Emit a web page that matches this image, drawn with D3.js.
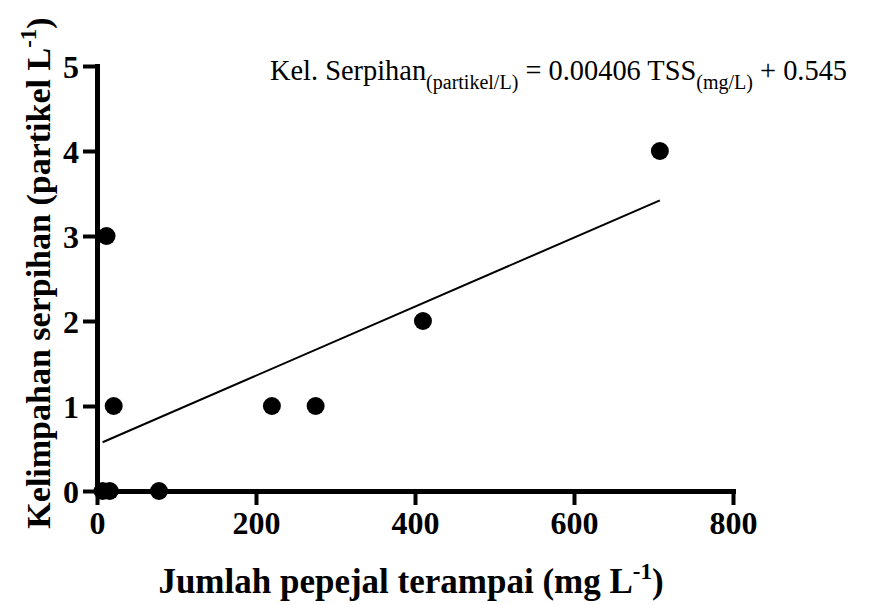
<!DOCTYPE html>
<html>
<head>
<meta charset="utf-8">
<script src="https://cdn.jsdelivr.net/npm/d3@7"></script>
<style>
  body { margin: 0; background: #fff; }
  svg { display: block; font-family: "Liberation Serif", "Times New Roman", serif; }
</style>
</head>
<body>
<svg id="chart" width="869" height="605"></svg>
<script>
// TSS (mg/L) vs debris abundance (partikel/L)
const tss = [7, 16, 78, 12, 21, 220, 275, 410, 708];
const debris = [0, 0, 0, 3, 1, 1, 1, 2, 4];
const slope = 0.00406;
const intercept = 0.545;
const xTicks = [0, 200, 400, 600, 800];
const yTicks = [0, 1, 2, 3, 4, 5];

const width = 869, height = 605;
const MARGIN = { LEFT: 97, RIGHT: 136, TOP: 66, BOTTOM: 114 };

const svg = d3.select("#chart");

const x = d3.scaleLinear().domain([0, 800]).range([MARGIN.LEFT, width - MARGIN.RIGHT]);
const y = d3.scaleLinear().domain([0, 5]).range([height - MARGIN.BOTTOM, MARGIN.TOP]);

// regression line over the data range
const xMin = d3.min(tss), xMax = d3.max(tss);
svg.append("line")
  .attr("x1", x(xMin)).attr("y1", y(slope * xMin + intercept))
  .attr("x2", x(xMax)).attr("y2", y(slope * xMax + intercept))
  .attr("stroke", "#000")
  .attr("stroke-width", 2);

// axes
const xAxis = svg.append("g")
  .attr("transform", `translate(0,${y(0)})`)
  .call(d3.axisBottom(x).tickValues(xTicks).tickFormat(d3.format("d"))
    .tickSize(14).tickSizeOuter(0).tickPadding(6));

const yAxis = svg.append("g")
  .attr("transform", `translate(${x(0)},0)`)
  .call(d3.axisLeft(y).tickValues(yTicks).tickFormat(d3.format("d"))
    .tickSize(14).tickSizeOuter(0).tickPadding(4));

[xAxis, yAxis].forEach((g) => {
  g.select(".domain").attr("stroke-width", 5).attr("stroke-linecap", "square");
  g.selectAll(".tick line").attr("stroke-width", 4);
  g.selectAll(".tick text")
    .attr("fill", "#000")
    .style("font-family", "'Liberation Serif', serif")
    .style("font-size", "32px")
    .style("font-weight", "bold");
});
yAxis.selectAll(".tick text").attr("dy", "0.35em");

// points
svg.append("g")
  .selectAll("circle")
  .data(tss.map((t, i) => ({ t, d: debris[i] })))
  .join("circle")
  .attr("cx", (d) => x(d.t))
  .attr("cy", (d) => y(d.d))
  .attr("r", 9)
  .attr("fill", "#000");

// equation
const eq = svg.append("text")
  .attr("x", 270)
  .attr("y", 80)
  .style("font-size", "28.4px")
  .attr("fill", "#000");
eq.append("tspan").text("Kel. Serpihan");
eq.append("tspan").attr("dy", 9).style("font-size", "20px").text("(partikel/L)");
eq.append("tspan").attr("dy", -9).text(" = 0.00406 TSS");
eq.append("tspan").attr("dy", 9).style("font-size", "20px").text("(mg/L)");
eq.append("tspan").attr("dy", -9).text(" + 0.545");

// x axis title
const xt = svg.append("text")
  .attr("x", 411)
  .attr("y", 593)
  .attr("text-anchor", "middle")
  .style("font-size", "35px")
  .style("font-weight", "bold");
xt.append("tspan").text("Jumlah pepejal terampai (mg L");
xt.append("tspan").attr("dy", -14).style("font-size", "23px").text("-1");
xt.append("tspan").attr("dy", 14).text(")");

// y axis title
const yt = svg.append("text")
  .attr("transform", "translate(50,273) rotate(-90)")
  .attr("text-anchor", "middle")
  .style("font-size", "34px")
  .style("font-weight", "bold");
yt.append("tspan").text("Kelimpahan serpihan (partikel L");
yt.append("tspan").attr("dy", -14).style("font-size", "23px").text("-1");
yt.append("tspan").attr("dy", 14).text(")");
</script>
</body>
</html>
